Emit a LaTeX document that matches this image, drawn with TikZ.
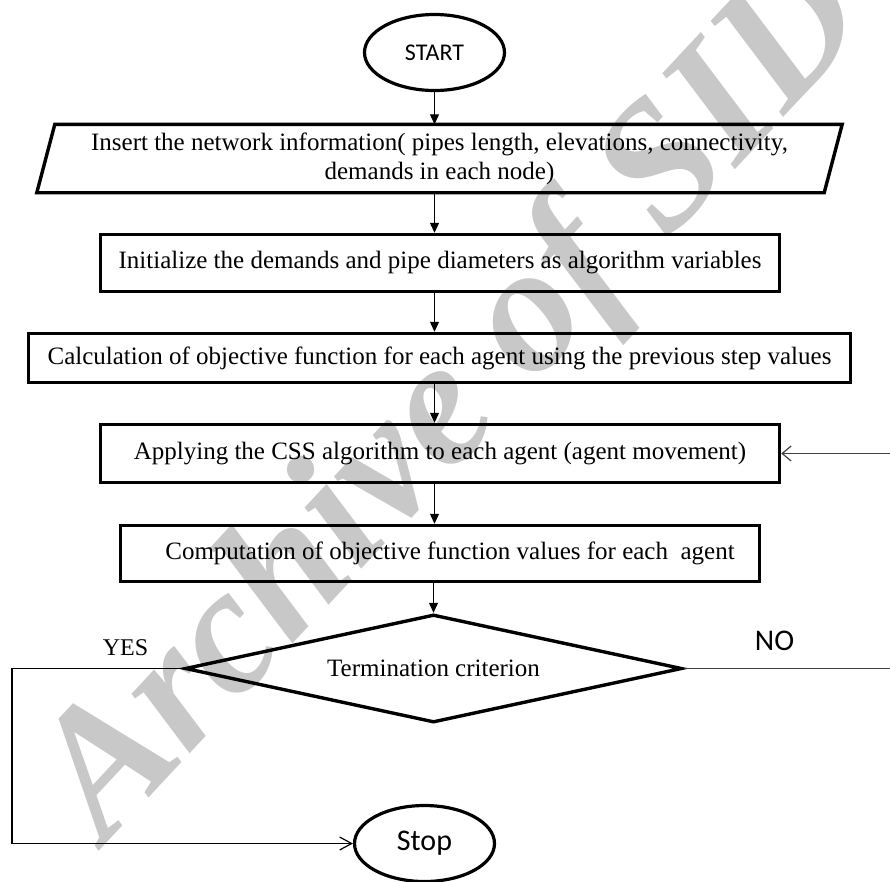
\documentclass[tikz,border=0pt]{standalone}
\usepackage{fontspec}
\setmainfont{Liberation Serif}
\newfontfamily\calib{Carlito}
\usetikzlibrary{arrows.meta,shapes.geometric}
\definecolor{wm}{RGB}{200,200,200}
\definecolor{ln}{RGB}{64,64,64}
\begin{document}
\begin{tikzpicture}[x=1pt,y=-1pt,
  txt/.style={font=\fontsize{25}{29}\selectfont},
  box/.style={draw, line width=3.4pt, rectangle, inner sep=0pt, txt},
  term/.style={draw, line width=3.2pt, ellipse, minimum width=140pt, minimum height=76pt, inner sep=0pt},
  arr/.style={line width=1.2pt, -{Triangle[length=10pt,width=9pt]}},
  back/.style={line width=1.2pt, draw=ln, -{Straight Barb[length=9pt,width=15pt]}},
  backs/.style={line width=1.2pt, -{Straight Barb[length=12pt,width=13pt]}},
]
\useasboundingbox (0,0) rectangle (890,881);
% watermark
\node[rotate=47, anchor=base west, text=wm, inner sep=0pt,
      font=\fontsize{181}{181}\selectfont\bfseries\itshape] (wmk) at (105,845) {Archive of SID};

\node[term, font=\calib\fontsize{24}{28}\selectfont] (start) at (434.5,52.5) {START};

\node[inner sep=0pt, minimum width=787pt, minimum height=68pt, align=center, txt] (b1) at (439.5,158.5)
  {Insert the network information( pipes length, elevations, connectivity,\\ demands in each node)};
\draw[line width=3.4pt, line join=miter] ([xshift=9pt]b1.north west) -- ([xshift=9pt]b1.north east)
  -- ([xshift=-9pt]b1.south east) -- ([xshift=-9pt]b1.south west) -- cycle;

\node[box, minimum width=679pt, minimum height=57pt] (b2) at (440,263)
  {Initialize the demands and pipe diameters as algorithm variables};
\node[box, minimum width=822pt, minimum height=49pt] (b3) at (439.5,358)
  {Calculation of objective function for each agent using the previous step values};
\node[box, minimum width=679pt, minimum height=58pt] (b4) at (440,453.5)
  {Applying the CSS algorithm to each agent (agent movement)};
\node[box, minimum width=639pt, minimum height=56pt] (b5) at (440,553.5)
  {\hspace*{20pt}Computation of objective function values for each\ \ agent};

\node[draw, diamond, aspect=4.6, line width=3.4pt, line join=miter, minimum width=497pt, minimum height=108pt,
      inner sep=0pt, txt] (dec) at (433.5,668.5) {Termination criterion};

\node[term, font=\calib\fontsize{30}{34}\selectfont] (stop) at (424.5,843.5) {Stop};

\node[font=\fontsize{24}{28}\selectfont] (yes) at (125.5,648) {YES};
\node[font=\calib\fontsize{30}{34}\selectfont] (no) at (774.5,641) {NO};

% main flow
\draw[arr] (start.south) -- (start.south |- b1.north);
\draw[arr] (b1.south -| start) -- (b2.north -| start);
\draw[arr] (b2.south -| start) -- (b3.north -| start);
\draw[arr] (b3.south -| start) -- (b4.north -| start);
\draw[arr] (b4.south -| start) -- (b5.north -| start);
\draw[arr] (b5.south -| dec) -- (dec.north);

% yes / no branches
\coordinate (yl) at (12,668.5);
\coordinate (nr) at (891.5,668.5);
\draw[backs] (dec.west) -- (yl) |- (stop.west);
\draw[back] (dec.east) -- (nr) |- (b4.east);
\end{tikzpicture}
\end{document}
